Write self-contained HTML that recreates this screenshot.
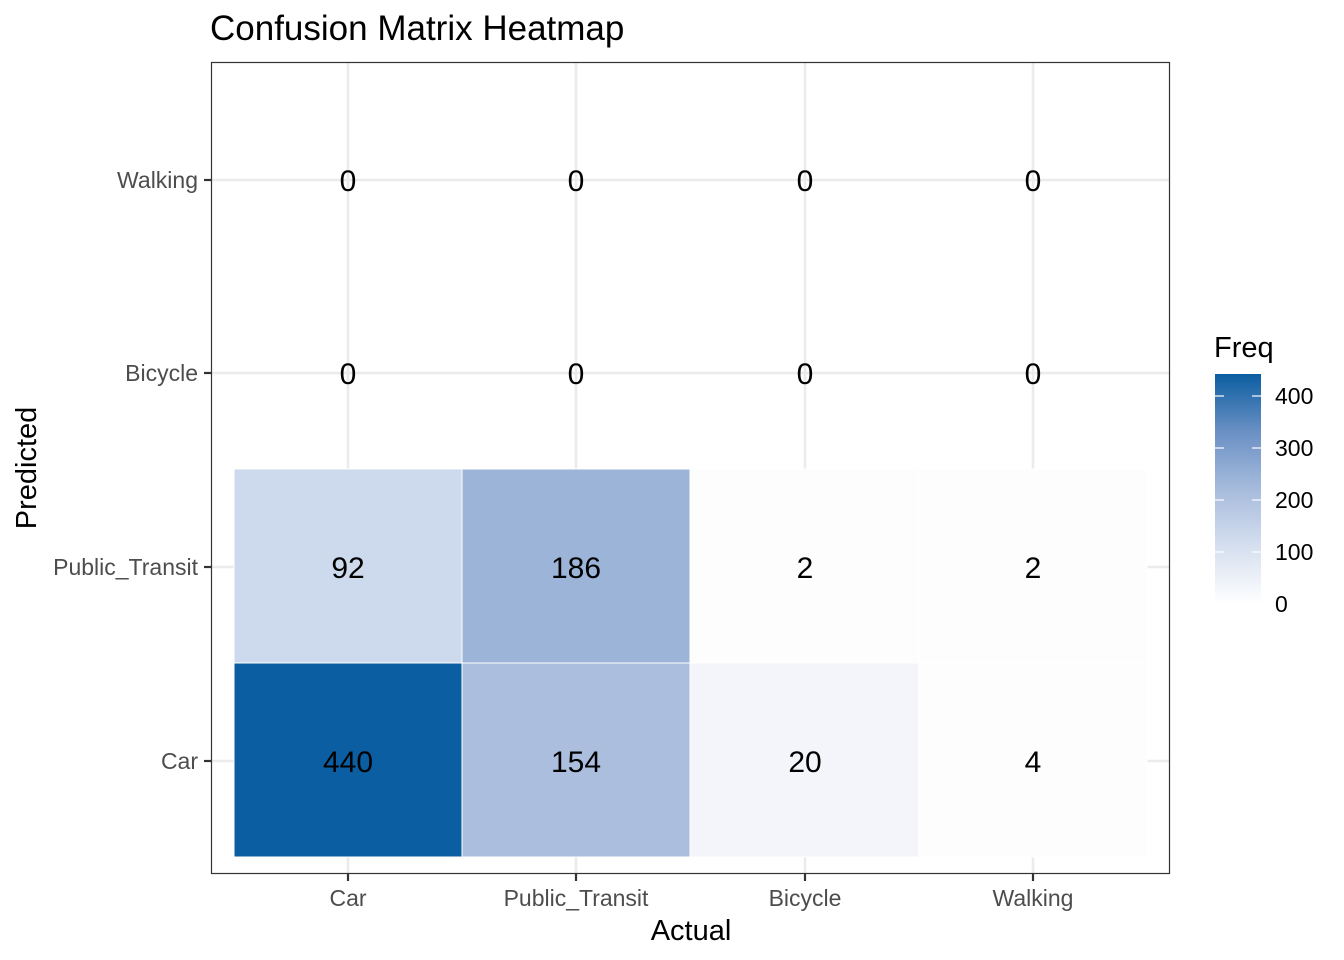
<!DOCTYPE html>
<html><head><meta charset="utf-8"><style>body{margin:0;background:#fff}svg{display:block}text{font-family:"Liberation Sans",Arial,sans-serif}</style></head>
<body>
<svg width="1344" height="960" viewBox="0 0 1344 960" xmlns="http://www.w3.org/2000/svg">
<defs><linearGradient id="g" x1="0" y1="1" x2="0" y2="0">
<stop offset="0" stop-color="#ffffff"/><stop offset="0.25" stop-color="#d5dfef"/><stop offset="0.5" stop-color="#a6bbdc"/><stop offset="0.75" stop-color="#6a90c4"/><stop offset="1" stop-color="#0b5ea1"/></linearGradient></defs>
<text x="210" y="40" font-size="35" fill="#000">Confusion Matrix Heatmap</text>
<rect x="211.5" y="62.5" width="958" height="811" fill="#fff"/>
<g stroke="#ebebeb" stroke-width="2.6">
<line x1="348" y1="62" x2="348" y2="874"/><line x1="576" y1="62" x2="576" y2="874"/><line x1="805" y1="62" x2="805" y2="874"/><line x1="1033" y1="62" x2="1033" y2="874"/>
<line x1="211" y1="180" x2="1170" y2="180"/><line x1="211" y1="373" x2="1170" y2="373"/><line x1="211" y1="567" x2="1170" y2="567"/><line x1="211" y1="761" x2="1170" y2="761"/>
</g>
<g stroke="#fff" stroke-width="1">
<rect x="234" y="469" width="228" height="194" fill="#cdd9ec"/>
<rect x="462" y="469" width="228" height="194" fill="#9db4d9"/>
<rect x="690" y="469" width="229" height="194" fill="#fdfdfe"/>
<rect x="919" y="469" width="228" height="194" fill="#fdfdfe"/>
<rect x="234" y="663" width="228" height="194" fill="#0b5ea1"/>
<rect x="462" y="663" width="228" height="194" fill="#abbedd"/>
<rect x="690" y="663" width="229" height="194" fill="#f3f5fa"/>
<rect x="919" y="663" width="228" height="194" fill="#fdfdfe"/>
</g>
<rect x="211.5" y="62.5" width="958" height="811" fill="none" stroke="#333" stroke-width="1.2"/>
<g font-size="30" text-anchor="middle" fill="#000">
<text x="348" y="191">0</text><text x="576" y="191">0</text><text x="805" y="191">0</text><text x="1033" y="191">0</text>
<text x="348" y="384">0</text><text x="576" y="384">0</text><text x="805" y="384">0</text><text x="1033" y="384">0</text>
<text x="348" y="578">92</text><text x="576" y="578">186</text><text x="805" y="578">2</text><text x="1033" y="578">2</text>
<text x="348" y="772">440</text><text x="576" y="772">154</text><text x="805" y="772">20</text><text x="1033" y="772">4</text>
</g>
<g stroke="#333" stroke-width="2.2">
<line x1="204" y1="180" x2="211" y2="180"/><line x1="204" y1="373" x2="211" y2="373"/><line x1="204" y1="567" x2="211" y2="567"/><line x1="204" y1="761" x2="211" y2="761"/>
<line x1="348" y1="874" x2="348" y2="881"/><line x1="576" y1="874" x2="576" y2="881"/><line x1="805" y1="874" x2="805" y2="881"/><line x1="1033" y1="874" x2="1033" y2="881"/>
</g>
<g font-size="23" fill="#4d4d4d" text-anchor="end">
<text x="198" y="188">Walking</text><text x="198" y="381">Bicycle</text><text x="198" y="575">Public_Transit</text><text x="198" y="769">Car</text>
</g>
<g font-size="23" fill="#4d4d4d" text-anchor="middle">
<text x="348" y="906">Car</text><text x="576" y="906">Public_Transit</text><text x="805" y="906">Bicycle</text><text x="1033" y="906">Walking</text>
</g>
<text x="691" y="940" font-size="29" text-anchor="middle">Actual</text>
<text transform="translate(36,468) rotate(-90)" font-size="29" text-anchor="middle">Predicted</text>
<text x="1214" y="357" font-size="29">Freq</text>
<rect x="1215" y="374" width="46" height="230" fill="url(#g)"/>
<g stroke="#fff" stroke-width="1.2">
<line x1="1215" y1="396" x2="1224" y2="396"/><line x1="1252" y1="396" x2="1261" y2="396"/>
<line x1="1215" y1="448" x2="1224" y2="448"/><line x1="1252" y1="448" x2="1261" y2="448"/>
<line x1="1215" y1="500" x2="1224" y2="500"/><line x1="1252" y1="500" x2="1261" y2="500"/>
<line x1="1215" y1="552" x2="1224" y2="552"/><line x1="1252" y1="552" x2="1261" y2="552"/>
</g>
<g font-size="23" fill="#000">
<text x="1275" y="404">400</text><text x="1275" y="456">300</text><text x="1275" y="508">200</text><text x="1275" y="560">100</text><text x="1275" y="612">0</text>
</g>
</svg>
</body></html>
